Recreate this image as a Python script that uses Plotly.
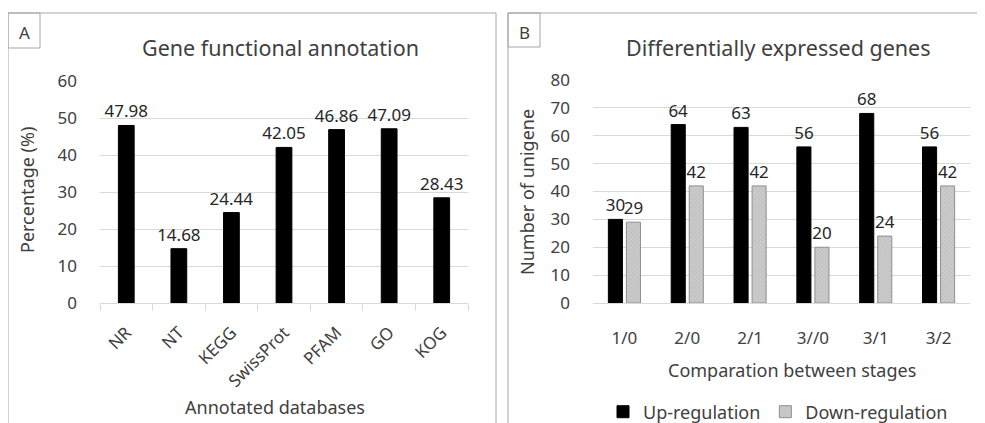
import plotly.graph_objects as go

# Panel A data
databases = ["NR", "NT", "KEGG", "SwissProt", "PFAM", "GO", "KOG"]
percentages = [47.98, 14.68, 24.44, 42.05, 46.86, 47.09, 28.43]

# Panel B data
stages = ["1/0", "2/0", "2/1", "3//0", "3/1", "3/2"]
up_regulation = [30, 64, 63, 56, 68, 56]
down_regulation = [29, 42, 42, 20, 24, 42]

# page body has an 8px margin, so the figure is shrunk and coordinates shifted
OFF = 8
W, H = 985 - OFF, 423 - OFF
FONT = "Noto Sans"
TXT = "#404040"
GRID = "#d9d9d9"

def px(x):
    return (x - OFF) / W

def py(y):
    return 1 - (y - OFF) / H

fig = go.Figure()

fig.add_trace(go.Bar(
    x=databases, y=percentages, xaxis="x", yaxis="y",
    width=0.3,
    marker=dict(color="black", line=dict(color="black", width=1)),
    text=[f"{v:.2f}" for v in percentages], textposition="outside",
    constraintext="none",
    textfont=dict(size=17, color="#262626", family=FONT),
    cliponaxis=False, showlegend=False,
))

fig.add_trace(go.Bar(
    x=stages, y=up_regulation, xaxis="x2", yaxis="y2",
    name="Up-regulation",
    marker=dict(color="black", line=dict(color="black", width=1)),
    text=[str(v) for v in up_regulation], textposition="outside",
    constraintext="none",
    textfont=dict(size=17, color="#262626", family=FONT),
    cliponaxis=False,
))
fig.add_trace(go.Bar(
    x=stages, y=down_regulation, xaxis="x2", yaxis="y2",
    name="Down-regulation",
    marker=dict(color="#cccccc", line=dict(color="#8f8f8f", width=1),
                pattern=dict(shape="x", fgcolor="#9e9e9e", size=3, solidity=0.3)),
    text=[str(v) for v in down_regulation], textposition="outside",
    constraintext="none",
    textfont=dict(size=17, color="#262626", family=FONT),
    cliponaxis=False,
))

fig.update_layout(
    width=W, height=H,
    margin=dict(l=0, r=0, t=0, b=0, autoexpand=False),
    paper_bgcolor="white", plot_bgcolor="white",
    font=dict(family=FONT, color=TXT),
    barmode="group", bargap=0.426, bargroupgap=0.22,
    xaxis=dict(domain=[px(100), px(468)], anchor="y",
               showline=True, linecolor=GRID, ticks="outside", tickson="boundaries",
               ticklen=7, tickcolor=GRID, tickangle=-45,
               tickfont=dict(size=17, color=TXT), showgrid=False,
               ticklabelstandoff=12),
    yaxis=dict(domain=[py(303), py(81)], anchor="x", range=[0, 60], dtick=10,
               showgrid=True, gridcolor=GRID, zeroline=False, showline=False,
               tickfont=dict(size=17, color=TXT), ticklabelstandoff=22),
    xaxis2=dict(domain=[px(593), px(970)], anchor="y2",
                showline=True, linecolor=GRID, ticks="",
                tickfont=dict(size=17, color=TXT), showgrid=False,
                ticklabelstandoff=20),
    yaxis2=dict(domain=[py(303), py(80)], anchor="x2", range=[0, 80], dtick=10,
                showgrid=True, gridcolor=GRID, zeroline=False, showline=False,
                tickfont=dict(size=17, color=TXT), ticklabelstandoff=22),
    legend=dict(orientation="h", x=px(778), xanchor="center", y=py(412), yanchor="middle",
                font=dict(size=18, color=TXT), itemwidth=30, bgcolor="rgba(0,0,0,0)"),
)

BORDER = "#a6a6a6"
shapes = [
    # panel A border
    dict(type="line", x0=px(8), x1=px(8), y0=py(13), y1=py(430), line=dict(color=BORDER, width=1)),
    dict(type="line", x0=px(8), x1=px(496), y0=py(13), y1=py(13), line=dict(color=BORDER, width=1)),
    dict(type="line", x0=px(496), x1=px(496), y0=py(13), y1=py(430), line=dict(color=BORDER, width=1)),
    # panel B border
    dict(type="line", x0=px(508), x1=px(508), y0=py(13), y1=py(430), line=dict(color=BORDER, width=1)),
    dict(type="line", x0=px(508), x1=px(990), y0=py(13), y1=py(13), line=dict(color=BORDER, width=1)),
    # label boxes
    dict(type="rect", x0=px(8), x1=px(40), y0=py(13), y1=py(48), line=dict(color=BORDER, width=1)),
    dict(type="rect", x0=px(508), x1=px(540), y0=py(13), y1=py(47), line=dict(color=BORDER, width=1)),
]
for s in shapes:
    s["xref"] = "paper"; s["yref"] = "paper"
fig.update_layout(shapes=shapes)

def ann(text, x, y, size, angle=0):
    fig.add_annotation(text=text, x=px(x), y=py(y), xref="paper", yref="paper",
                       showarrow=False, xanchor="center", yanchor="middle",
                       textangle=angle, font=dict(size=size, color=TXT, family=FONT))

ann("A", 24, 32, 17)
ann("B", 524, 32, 17)
ann("Gene functional annotation", 280, 48, 21.5)
ann("Differentially expressed genes", 778, 48, 21.5)
ann("Percentage (%)", 27, 190, 18, -90)
ann("Number of unigene", 527, 192, 18, -90)
ann("Annotated databases", 275, 407, 18)
ann("Comparation between stages", 792, 370, 18)

fig.write_html("out.html")
